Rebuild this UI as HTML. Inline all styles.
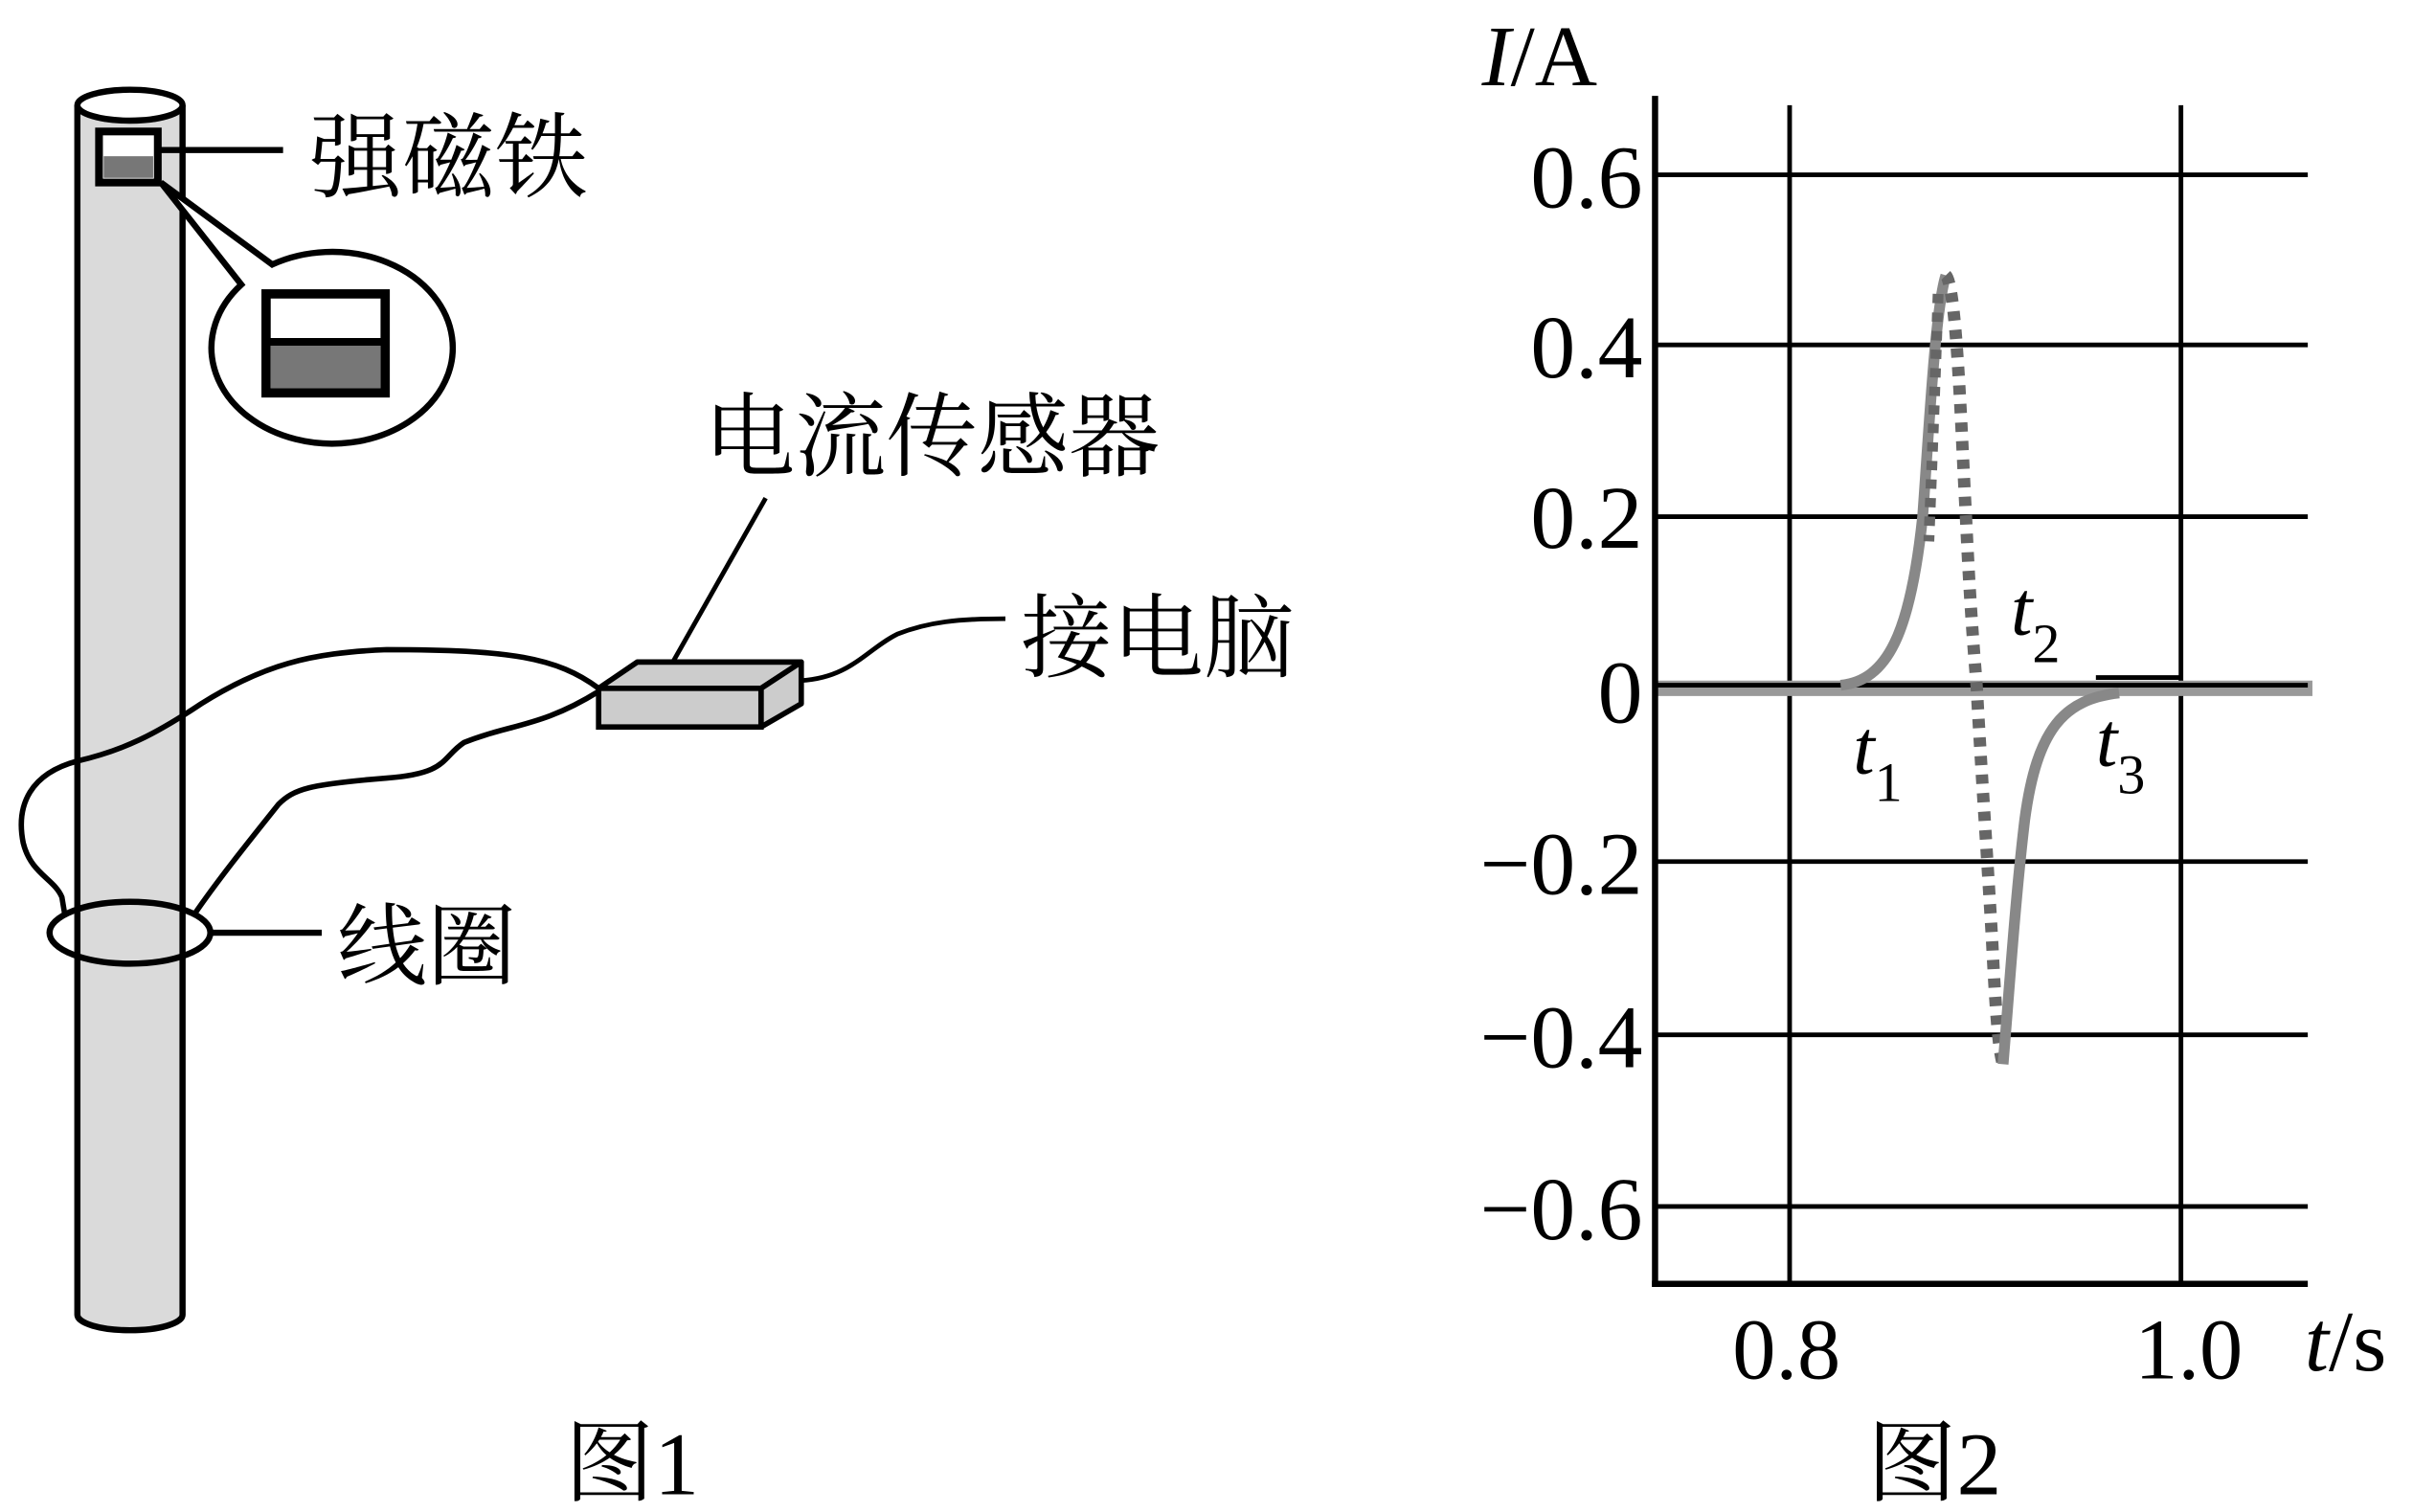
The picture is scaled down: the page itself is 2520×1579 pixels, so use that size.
<!DOCTYPE html>
<html><head><meta charset="utf-8"><style>
html,body{margin:0;padding:0;background:#fff;}
svg{display:block;}
text{font-family:"Liberation Serif","Noto Serif CJK SC",serif;fill:#000;}
</style></head><body>
<svg width="2520" height="1579" viewBox="0 0 1560 977.5" xmlns="http://www.w3.org/2000/svg">
<!-- pipe -->
<path d="M50,68 L50,850 A34,10 0 0 0 118,850 L118,68" fill="#dadada" stroke="#000" stroke-width="4"/>
<ellipse cx="84" cy="68" rx="34" ry="10" fill="#fff" stroke="#000" stroke-width="4"/>
<!-- magnet -->
<rect x="64" y="85" width="38" height="33" fill="#fff" stroke="#000" stroke-width="5"/>
<rect x="67" y="101" width="32" height="14" fill="#777"/>
<line x1="102" y1="97" x2="183" y2="97" stroke="#000" stroke-width="4"/>
<text x="200" y="123" font-size="60">强磁铁</text>
<!-- callout -->
<path d="M104,118 L156,184 A78,62 0 1 0 176,171 Z" fill="#fff" stroke="#000" stroke-width="4" stroke-linejoin="miter"/>
<rect x="172" y="190" width="77" height="64" fill="#fff" stroke="#000" stroke-width="6"/>
<rect x="175" y="222" width="71" height="29" fill="#777"/>
<line x1="172" y1="221" x2="249" y2="221" stroke="#000" stroke-width="5"/>
<!-- wires -->
<path d="M387,445 C360,425 330,420 250,420 C200,422 170,430 130,455 C100,475 80,485 50,492 C20,500 10,520 15,545 C20,565 35,568 40,580 L42,592" fill="none" stroke="#000" stroke-width="3.5"/>
<path d="M387,447 C350,470 330,468 300,480 C285,490 290,500 250,503 C200,507 190,510 180,520 C160,545 140,570 125,592" fill="none" stroke="#000" stroke-width="3.5"/>
<path d="M518,440 C550,438 560,420 580,410 C600,402 620,400 650,400" fill="none" stroke="#000" stroke-width="3"/>
<!-- coil -->
<ellipse cx="84" cy="603" rx="52" ry="20" fill="none" stroke="#000" stroke-width="4"/>
<line x1="136" y1="603" x2="208" y2="603" stroke="#000" stroke-width="4"/>
<text x="218" y="632" font-size="58">线圈</text>
<!-- sensor -->
<polygon points="387,445 412,428 518,428 492,445" fill="#ccc" stroke="#000" stroke-width="3.5" stroke-linejoin="round"/>
<polygon points="492,445 518,428 518,455 492,470" fill="#ccc" stroke="#000" stroke-width="3.5" stroke-linejoin="round"/>
<rect x="387" y="445" width="105" height="25" fill="#ccc" stroke="#000" stroke-width="3.5"/>
<line x1="435" y1="428" x2="495" y2="322" stroke="#000" stroke-width="3"/>
<text x="455" y="303" font-size="59">电流传感器</text>
<text x="660" y="433" font-size="59">接电脑</text>
<text x="365" y="966" font-size="58">图1</text>

<g transform="translate(-5,0)">
<g stroke="#000" stroke-width="3">
<line x1="1075" y1="113" x2="1497" y2="113"/>
<line x1="1075" y1="223" x2="1497" y2="223"/>
<line x1="1075" y1="334" x2="1497" y2="334"/>
<line x1="1075" y1="557" x2="1497" y2="557"/>
<line x1="1075" y1="669" x2="1497" y2="669"/>
<line x1="1075" y1="780" x2="1497" y2="780"/>
<line x1="1162" y1="68" x2="1162" y2="830"/>
<line x1="1415" y1="68" x2="1415" y2="830"/>
</g>
<line x1="1075" y1="445" x2="1500" y2="445" stroke="#999" stroke-width="10"/>
<line x1="1075" y1="443" x2="1497" y2="443" stroke="#000" stroke-width="3"/>
<line x1="1360" y1="438" x2="1415" y2="438" stroke="#000" stroke-width="3"/>
<path d="M1195,443 C1225,440 1240,410 1248,334 C1252,280 1256,200 1263,178" fill="none" stroke="#888" stroke-width="7"/>
<path d="M1263,178 C1270,185 1273,280 1276,334 C1279,400 1282,430 1283,445 C1286,500 1290,557 1293,610 C1295,650 1297,680 1300,688" fill="none" stroke="#666" stroke-width="8" stroke-dasharray="6 6"/>
<path d="M1258,190 C1256,250 1254,300 1252,350" fill="none" stroke="#666" stroke-width="7" stroke-dasharray="6 6"/>
<path d="M1300,688 C1304,640 1308,580 1314,530 C1322,470 1340,452 1375,448" fill="none" stroke="#888" stroke-width="7"/>
<line x1="1075" y1="62" x2="1075" y2="832" stroke="#000" stroke-width="4"/>
<line x1="1073" y1="830" x2="1497" y2="830" stroke="#000" stroke-width="4"/>
<g font-size="58" text-anchor="end">
<text x="1067" y="134">0.6</text>
<text x="1067" y="244">0.4</text>
<text x="1067" y="354">0.2</text>
<text x="1067" y="467">0</text>
<text x="1067" y="578">−0.2</text>
<text x="1067" y="690">−0.4</text>
<text x="1067" y="801">−0.6</text>
</g>
<text x="963" y="55" font-size="56"><tspan font-style="italic">I</tspan>/A</text>
<text x="1160" y="891" font-size="56" text-anchor="middle">0.8</text>
<text x="1420" y="891" font-size="56" text-anchor="middle">1.0</text>
<text x="1495" y="886" font-size="56"><tspan font-style="italic">t</tspan>/s</text>
<text x="1203" y="500" font-size="50" font-style="italic">t<tspan font-size="36" font-style="normal" dy="18">1</tspan></text>
<text x="1305" y="410" font-size="50" font-style="italic">t<tspan font-size="36" font-style="normal" dy="18">2</tspan></text>
<text x="1360" y="495" font-size="50" font-style="italic">t<tspan font-size="36" font-style="normal" dy="18">3</tspan></text>
<text x="1212" y="966" font-size="58">图2</text>
</g>
</svg>
</body></html>
